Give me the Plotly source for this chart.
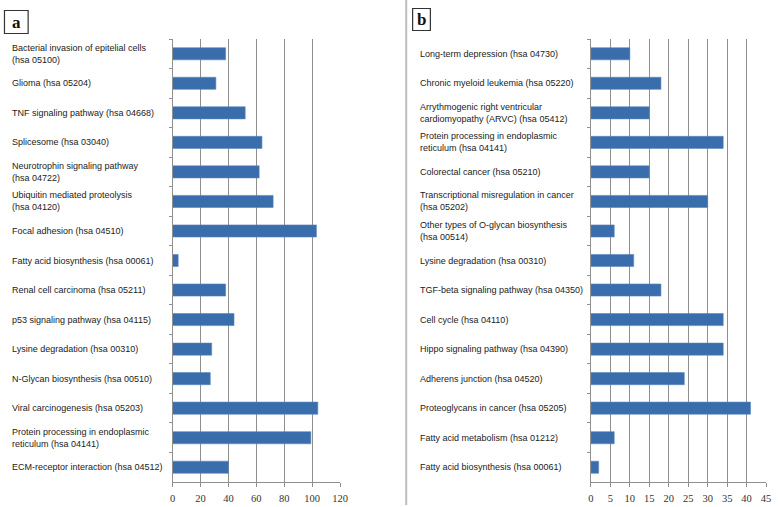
import plotly.graph_objects as go

W, H = 778, 507

labels_a = [
    "Bacterial invasion of epitelial cells<br>(hsa 05100)",
    "Glioma (hsa 05204)",
    "TNF signaling pathway (hsa 04668)",
    "Splicesome (hsa 03040)",
    "Neurotrophin signaling pathway<br>(hsa 04722)",
    "Ubiquitin mediated proteolysis<br>(hsa 04120)",
    "Focal adhesion (hsa 04510)",
    "Fatty acid biosynthesis (hsa 00061)",
    "Renal cell carcinoma (hsa 05211)",
    "p53 signaling pathway (hsa 04115)",
    "Lysine degradation (hsa 00310)",
    "N-Glycan biosynthesis (hsa 00510)",
    "Viral carcinogenesis (hsa 05203)",
    "Protein processing in endoplasmic<br>reticulum (hsa 04141)",
    "ECM-receptor interaction (hsa 04512)",
]
values_a = [38, 31, 52, 64, 62, 72, 103, 4, 38, 44, 28, 27, 104, 99, 40]

labels_b = [
    "Long-term depression (hsa 04730)",
    "Chronic myeloid leukemia (hsa 05220)",
    "Arrythmogenic right ventricular<br>cardiomyopathy (ARVC) (hsa 05412)",
    "Protein processing in endoplasmic<br>reticulum (hsa 04141)",
    "Colorectal cancer (hsa 05210)",
    "Transcriptional misregulation in cancer<br>(hsa 05202)",
    "Other types of O-glycan biosynthesis<br>(hsa 00514)",
    "Lysine degradation (hsa 00310)",
    "TGF-beta signaling pathway (hsa 04350)",
    "Cell cycle (hsa 04110)",
    "Hippo signaling pathway (hsa 04390)",
    "Adherens junction (hsa 04520)",
    "Proteoglycans in cancer (hsa 05205)",
    "Fatty acid metabolism (hsa 01212)",
    "Fatty acid biosynthesis (hsa 00061)",
]
values_b = [10, 18, 15, 34, 15, 30, 6, 11, 18, 34, 34, 24, 41, 6, 2]

panel_letters = ["a", "b"]
xticks_a = [0, 20, 40, 60, 80, 100, 120]
xticks_b = [0, 5, 10, 15, 20, 25, 30, 35, 40, 45]

BAR = "#3a6dab"
GRID = "#8f8f8f"

def px(x):
    return x / W

def py(y):
    return 1 - y / H

fig = go.Figure()
fig.add_trace(go.Bar(x=values_a, y=labels_a, orientation="h", xaxis="x", yaxis="y",
                     marker=dict(color=BAR, line=dict(color="#5b86bb", width=0.6)),
                     width=0.41, hoverinfo="x+y"))
fig.add_trace(go.Bar(x=values_b, y=labels_b, orientation="h", xaxis="x2", yaxis="y2",
                     marker=dict(color=BAR, line=dict(color="#5b86bb", width=0.6)),
                     width=0.41, hoverinfo="x+y"))

ydom = [py(482), py(39)]
tickfont = dict(family="Liberation Serif", size=10.5, color="#333333")

def xaxis(dom, rng, ticks, anchor):
    return dict(domain=dom, range=rng, tickvals=ticks, ticktext=[str(t) for t in ticks],
                showgrid=True, gridcolor=GRID, gridwidth=1, zeroline=False,
                showline=True, linecolor=GRID, linewidth=1,
                ticks="outside", ticklen=4, tickcolor=GRID, ticklabelstandoff=2,
                tickfont=tickfont, anchor=anchor, fixedrange=True)

def yaxis(anchor):
    return dict(domain=ydom, type="category", autorange="reversed",
                showticklabels=False, showgrid=False, zeroline=False,
                showline=True, linecolor=GRID, linewidth=1,
                ticks="outside", ticklen=3, tickcolor=GRID, tickson="boundaries",
                anchor=anchor, fixedrange=True)

fig.update_layout(
    width=W, height=H, margin=dict(l=0, r=0, t=0, b=0),
    paper_bgcolor="white", plot_bgcolor="white", showlegend=False,
    xaxis=xaxis([px(172), px(342)], [0, 120], xticks_a, "y"),
    yaxis=yaxis("x"),
    xaxis2=xaxis([px(596.3), px(774)], [0, 45], xticks_b, "y2"),
    yaxis2=yaxis("x2"),
    bargap=0.6,
)

labfont = dict(family="Liberation Sans", size=9, color="#222222")
annotations = []
for lab in labels_a:
    annotations.append(dict(x=px(7), y=lab, xref="paper", yref="y", text=lab,
                            showarrow=False, xanchor="left", yanchor="middle",
                            align="left", font=labfont))
for lab in labels_b:
    annotations.append(dict(x=px(421), y=lab, xref="paper", yref="y2", text=lab,
                            showarrow=False, xanchor="left", yanchor="middle",
                            align="left", font=labfont))

# panel letters
boxes = [(1.5, 10.5, 25.5, 33.5), (415.5, 8.5, 433.5, 30.5)]
shapes = []
for letter, (x0, y0, x1, y1) in zip(panel_letters, boxes):
    shapes.append(dict(type="rect", xref="paper", yref="paper",
                       x0=px(x0), x1=px(x1), y0=py(y1), y1=py(y0),
                       line=dict(color="#333333", width=1.2), fillcolor="white"))
    annotations.append(dict(x=px((x0 + x1) / 2), y=py((y0 + y1) / 2 + 0.5), xref="paper", yref="paper",
                            text="<b>%s</b>" % letter, showarrow=False,
                            xanchor="center", yanchor="middle",
                            font=dict(family="Liberation Serif", size=17, color="#111111")))

# separator between panels
shapes.append(dict(type="line", xref="paper", yref="paper",
                   x0=px(409), x1=px(409), y0=py(505), y1=py(0),
                   line=dict(color="#bdbdbd", width=2)))

fig.update_layout(annotations=annotations, shapes=shapes)
fig.write_html("out.html", config={"displayModeBar": False},
               post_script="document.body.style.margin='0';document.body.style.overflow='hidden';")
